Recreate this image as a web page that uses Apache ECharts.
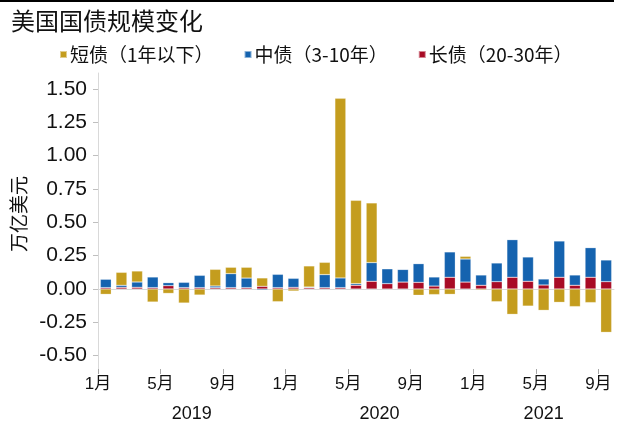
<!DOCTYPE html>
<html>
<head>
<meta charset="utf-8">
<style>
  html, body { margin: 0; padding: 0; background: #fff; }
  #main { width: 617px; height: 424px; }
</style>
<script src="https://cdn.jsdelivr.net/npm/echarts@6/dist/echarts.min.js"></script>
</head>
<body>
<div id="main"></div>
<script>
// 月份 2019年1月 - 2021年9月
var months = [];
for (var y = 2019; y <= 2021; y++) {
    for (var m = 1; m <= 12; m++) {
        if (y === 2021 && m > 9) break;
        months.push(y + '-' + m);
    }
}
// 短债（1年以下）
var shortDebt = [-0.04, 0.0975, 0.0825, -0.0975, -0.033, -0.105, -0.045, 0.125, 0.048, 0.081, 0.063, -0.095,
                 -0.015, 0.158, 0.092, 1.347, 0.625, 0.4475, 0, 0, -0.047, -0.042, -0.04, 0.02,
                 -0.008, -0.095, -0.19, -0.128, -0.16, -0.10, -0.132, -0.102, -0.325];
// 中债（3-10年）
var midDebt = [0.063, 0.015, 0.04, 0.08, 0.0225, 0.04, 0.0925, 0.0125, 0.105, 0.072, -0.008, 0.10,
               0.068, 0.005, 0.098, 0.073, 0.012, 0.14, 0.112, 0.095, 0.14, 0.068, 0.19, 0.173,
               0.077, 0.14, 0.282, 0.182, 0.045, 0.272, 0.077, 0.222, 0.1625];
// 长债（20-30年）
var longDebt = [0.01, 0.0125, 0.0125, 0.01, 0.025, 0.01, 0.01, 0.01, 0.01, 0.01, 0.02, 0.01,
                0.012, 0.01, 0.01, 0.01, 0.028, 0.058, 0.04, 0.052, 0.05, 0.022, 0.088, 0.052,
                0.028, 0.055, 0.088, 0.058, 0.03, 0.088, 0.028, 0.088, 0.055];
// 刻度
var yTicks = [-0.5, -0.25, 0, 0.25, 0.5, 0.75, 1.0, 1.25, 1.5];
var monthTicks = [0, 4, 8, 12, 16, 20, 24, 28, 32];
var yearPos = [6, 18, 28.5];
var yearLabels = ['2019', '2020', '2021'];

var numFont = 'Liberation Sans, Arial, Noto Sans CJK SC';
var cjkFont = 'Noto Sans CJK SC';

var myChart = echarts.init(document.getElementById('main'));
var option = {
    animation: false,
    title: {
        text: '美国国债规模变化',
        left: 6,
        top: 4,
        textStyle: { fontFamily: cjkFont, fontSize: 24, fontWeight: 'normal', color: '#111' }
    },
    legend: {
        data: ['短债（1年以下）', '中债（3-10年）', '长债（20-30年）'],
        left: 54,
        top: 40,
        itemWidth: 7,
        itemHeight: 7,
        itemGap: 30,
        icon: 'rect',
        textStyle: { fontFamily: cjkFont, fontSize: 19, color: '#111', padding: [0, 0, 0, -2] }
    },
    grid: { left: 98, right: 3, top: 73, bottom: 55 },
    xAxis: [
        {
            type: 'category',
            data: months,
            axisLine: { lineStyle: { color: '#d9d9d9' } },
            axisTick: { show: false },
            axisLabel: { show: false }
        },
        {
            type: 'value',
            min: 0,
            max: months.length,
            position: 'bottom',
            axisLine: { show: false },
            splitLine: { show: false },
            axisTick: { show: true, customValues: monthTicks, length: 5, lineStyle: { color: '#a6a6a6' } },
            axisLabel: {
                customValues: monthTicks,
                margin: 7,
                fontFamily: numFont,
                fontSize: 17,
                color: '#111',
                formatter: function (v) { return (v % 12 + 1) + '月'; }
            }
        },
        {
            type: 'value',
            min: 0,
            max: months.length,
            position: 'bottom',
            offset: 29,
            axisLine: { show: false },
            splitLine: { show: false },
            axisTick: { show: false },
            axisLabel: {
                customValues: yearPos,
                margin: 7,
                fontFamily: numFont,
                fontSize: 18,
                color: '#111',
                formatter: function (v) { return yearLabels[yearPos.indexOf(v)]; }
            }
        }
    ],
    yAxis: {
        type: 'value',
        min: -0.6,
        max: 1.62,
        name: '万亿美元',
        nameLocation: 'middle',
        nameGap: 64,
        nameTextStyle: { fontFamily: cjkFont, fontSize: 19, color: '#111', padding: [0, 0, 0, 14] },
        axisLine: { show: true, lineStyle: { color: '#d9d9d9' } },
        axisTick: { show: true, customValues: yTicks, length: 5, lineStyle: { color: '#bfbfbf' } },
        splitLine: { show: false },
        axisLabel: {
            customValues: yTicks,
            margin: 11,
            fontFamily: numFont,
            fontSize: 21,
            color: '#111',
            formatter: function (v) { return v.toFixed(2); }
        }
    },
    graphic: [
        { type: 'rect', shape: { x: 0, y: 0, width: 614, height: 2 }, style: { fill: '#000' } }
    ],
    series: [
        {
            name: '长债（20-30年）', type: 'bar', stack: 'debt', data: longDebt,
            barCategoryGap: '30%',
            itemStyle: { color: '#A80B25', borderColor: 'rgba(255,255,255,0.5)', borderWidth: 0.5 }
        },
        {
            name: '中债（3-10年）', type: 'bar', stack: 'debt', data: midDebt,
            itemStyle: { color: '#1563AF', borderColor: 'rgba(255,255,255,0.5)', borderWidth: 0.5 }
        },
        {
            name: '短债（1年以下）', type: 'bar', stack: 'debt', data: shortDebt,
            itemStyle: { color: '#C49D1E', borderColor: 'rgba(255,255,255,0.5)', borderWidth: 0.5 }
        }
    ]
};
myChart.setOption(option);
</script>
</body>
</html>
